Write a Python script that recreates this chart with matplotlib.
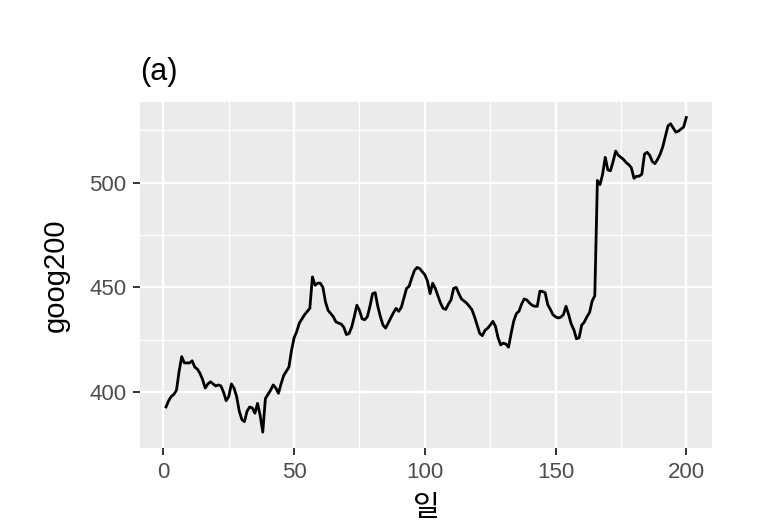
import matplotlib.pyplot as plt
import numpy as np

plt.rcParams['font.family'] = ['Liberation Sans', 'Noto Sans CJK KR', 'DejaVu Sans']

# goog200 closing prices
goog200 = np.array([
    393, 396, 398, 399, 401, 410, 417, 414, 414, 414,
    415, 412, 411, 409, 406, 402, 404, 405, 404, 403,
    403.5, 403, 400, 396, 398, 404, 402, 398, 391, 387,
    386, 391, 393, 392.5, 390, 394.7, 389, 381, 397, 399,
    401, 403.5, 402, 399.5, 404, 408, 410, 412, 420, 426,
    429, 433, 435, 437, 438.5, 440, 455, 451, 452, 452,
    450, 443, 439, 437.5, 436, 433.5, 433, 432.5, 431, 427.5,
    428, 431, 436, 441.5, 439, 435, 434.6, 436, 441, 447,
    447.5, 441, 436, 432, 430.6, 433, 435.5, 438, 440, 438.6,
    440.5, 445, 449.5, 450.6, 454.5, 458, 459.5, 459, 457.5, 456,
    453, 447, 452, 449.5, 446, 442.5, 440, 439.5, 442, 444,
    449.5, 450, 447, 444.5, 443.5, 442.5, 441, 439.4, 436, 432,
    428, 427, 429.5, 430.5, 432, 433.8, 431.5, 426, 422.6, 423.4,
    423, 421.5, 428, 434, 437.5, 438.6, 442, 444.5, 444, 442.6,
    441.5, 441, 441, 448.2, 448, 447.5, 441.8, 439.5, 437, 436,
    435.4, 435.8, 437, 441, 437, 432.5, 429.8, 425.5, 426, 432,
    433.5, 436, 438, 443.5, 446, 501, 499, 504, 512, 506,
    505.6, 510, 515, 513, 512, 511, 509.5, 508.5, 507, 502,
    503, 503, 504, 513.5, 514.4, 513, 510, 509, 511, 513.5,
    517, 522, 527, 528, 526, 524, 524.5, 525.5, 526.5, 531,
])
days = np.arange(1, len(goog200) + 1)

x_ticks = [0, 50, 100, 150, 200]
y_ticks = [400, 450, 500]

fig = plt.figure(figsize=(7.61, 5.30), dpi=100)
ax = fig.add_axes([0.184, 0.155, 0.752, 0.653])

ax.set_facecolor('#EBEBEB')
for s in ax.spines.values():
    s.set_visible(False)

ax.plot(days, goog200, color='black', lw=2.0, zorder=3)

# ggplot-like expansion of 5%
xr = days.max() - days.min()
yr = goog200.max() - goog200.min()
ax.set_xlim(days.min() - 0.05 * xr, days.max() + 0.05 * xr)
ax.set_ylim(goog200.min() - 0.05 * yr, goog200.max() + 0.05 * yr)

ax.set_xticks(x_ticks)
ax.set_yticks(y_ticks)
ax.set_xticks([25, 75, 125, 175], minor=True)
ax.set_yticks([425, 475, 525], minor=True)
ax.grid(which='major', color='white', lw=1.7, zorder=0)
ax.grid(which='minor', color='white', lw=0.9, zorder=0)
ax.set_axisbelow(True)

ax.tick_params(which='major', length=5, width=1.4, color='#333333',
               labelcolor='#4D4D4D', labelsize=16, pad=5)
ax.tick_params(which='minor', length=0)

ax.set_xlabel('일', fontsize=21, color='black', labelpad=8)
ax.set_ylabel('goog200', fontsize=21, color='black', labelpad=14)
ax.set_title('(a)', fontsize=22, loc='left', pad=16)

plt.savefig('out.png', dpi=100)
